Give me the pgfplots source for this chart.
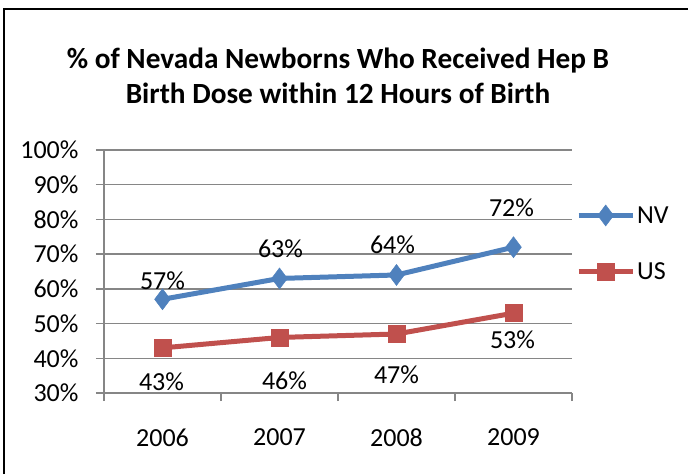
\documentclass[border=0pt]{standalone}
\usepackage{pgfplots}
\pgfplotsset{compat=1.18}
\usepackage{pgfplotstable}
\usepackage{fontspec}
\setmainfont{Carlito}

\definecolor{nvblue}{HTML}{4F81BD}
\definecolor{usred}{HTML}{C0504D}
\definecolor{gridgray}{HTML}{868686}

% year index, value, label shift (x, y) in pt
\pgfplotstableread{
x  y   dx  dy
0  57  0   19
1  63  1   30
2  64  -4  30
3  72  -2  39
}\nvdata
\pgfplotstableread{
x  y   dx  dy
0  43  -1  -34
1  46  5   -43
2  47  0   -41
3  53  -1  -27
}\usdata

\begin{document}
\begin{tikzpicture}
\useasboundingbox (0pt,0pt) rectangle (688pt,-474pt);
% outer frame
\draw[line width=2pt,black] (3.5pt,-474pt) -- (3.5pt,-9pt) -- (688pt,-9pt);
% title
\node[font=\fontsize{29.3}{35}\selectfont\bfseries,align=center] at (338pt,-76pt)
  {\% of Nevada Newborns Who Received Hep B\\Birth Dose within 12 Hours of Birth};
\begin{axis}[
  at={(104pt,-393pt)}, anchor=south west,
  scale only axis, width=468pt, height=243pt,
  xmin=-0.5, xmax=3.5, ymin=30, ymax=100,
  xtick={-0.5,0.5,1.5,2.5,3.5},
  x tick label as interval,
  xticklabels={2006,2007,2008,2009},
  ytick={30,40,...,100},
  yticklabel={\pgfmathprintnumber{\tick}\%},
  /pgf/number format/assume math mode=true,
  axis x line*=bottom, axis y line*=left,
  axis line style={gridgray,line width=1.5pt,-},
  ymajorgrids, grid style={gridgray,line width=1.5pt},
  tick style={gridgray,line width=1.5pt},
  tick align=outside, major tick length=8pt,
  ticklabel style={font=\fontsize{26}{30}\selectfont,black},
  xticklabel style={yshift=-24pt},
  yticklabel style={xshift=-14pt},
  clip=false,
  point meta=y,
  nodes near coords={\pgfmathprintnumber{\pgfplotspointmeta}\%},
  visualization depends on={\thisrow{dx} \as \dx},
  visualization depends on={\thisrow{dy} \as \dy},
  every node near coord/.style={anchor=center,xshift=\dx pt,yshift=\dy pt,
    font=\fontsize{26}{30}\selectfont,black},
  legend style={at={(1.0085,0.777)},anchor=north west,draw=none,fill=none,
    font=\fontsize{26}{30}\selectfont,row sep=34pt,inner sep=0pt},
  legend cell align=left,
  legend image code/.code={\draw[#1,mark repeat=2,mark phase=2]
    plot coordinates {(0pt,0pt) (27pt,0pt) (54pt,0pt)};},
]
\addplot[nvblue,line width=5pt,mark=diamond*,mark size=10.5pt,
  mark options={solid,line width=0.5pt,fill=nvblue}]
  table[x=x,y=y] {\nvdata};
\addlegendentry{NV}
\addplot[usred,line width=5pt,mark=square*,mark size=8.5pt,
  mark options={solid,line width=0.5pt,fill=usred}]
  table[x=x,y=y] {\usdata};
\addlegendentry{US}
\end{axis}
\end{tikzpicture}
\end{document}
